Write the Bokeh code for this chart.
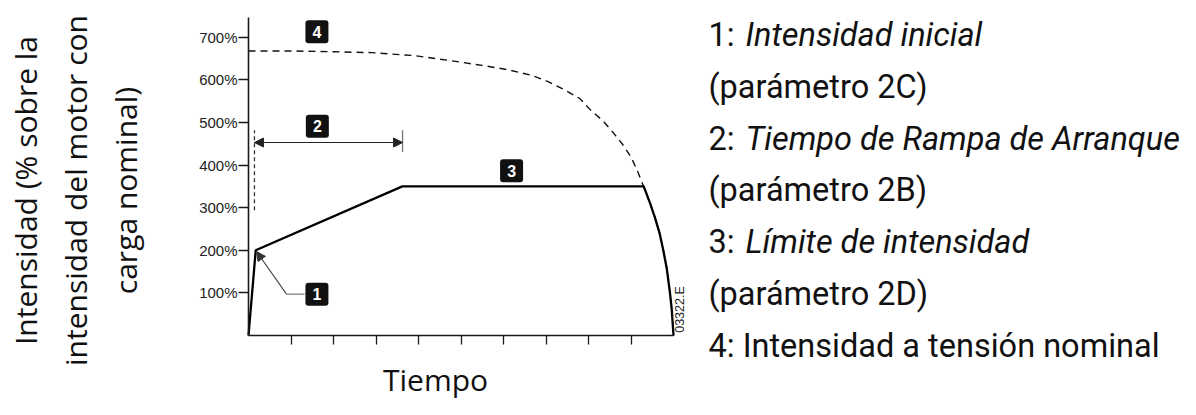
import math
from bokeh.plotting import figure
from bokeh.models import (Label, Arrow, NormalHead, FixedTicker, Range1d, LinearAxis)
from bokeh.core.properties import value
from bokeh.embed import file_html
from bokeh.resources import INLINE

# ---------------- data ----------------
# time axis in arbitrary units (ticks 1..9), current in % of full-load current
time_dashed = [0, 1, 2, 2.9, 3.9, 4.7, 5.5, 6.1, 6.65, 7.05, 7.45, 7.8, 8.05, 8.35,
               8.6, 8.8, 9.0, 9.15, 9.3, 9.45, 9.56, 9.67, 9.76, 9.84, 9.91, 9.96, 10]
current_dashed = [668, 668, 666, 664, 657, 646, 634, 624, 611, 596, 576, 556, 529, 503,
                  474, 449, 419, 387, 349, 310, 278, 241, 200, 158, 106, 60, 0]

time_solid = [0, 0.17, 3.62, 9.3, 9.45, 9.56, 9.67, 9.76, 9.84, 9.91, 9.96, 10]
current_solid = [0, 200, 350, 350, 310, 278, 241, 200, 158, 106, 60, 0]

y_ticks = [100, 200, 300, 400, 500, 600, 700]
y_tick_labels = ["100%", "200%", "300%", "400%", "500%", "600%", "700%"]
x_ticks = [1, 2, 3, 4, 5, 6, 7, 8, 9]
time_axis_end = 10
current_axis_end = 746.5

badge_text = ["1", "2", "3", "4"]
badge_time = [1.61, 1.62, 6.19, 1.61]
badge_current = [97, 491, 387, 713]

ramp_start_time = 0.14
ramp_end_time = 3.625
ramp_arrow_current = 453
ramp_marker_low = [294, 431]
ramp_marker_high = [482, 482]

initial_arrow_elbow = (0.894, 97)
initial_arrow_box = (1.32, 97)
initial_arrow_tip = (0.19, 197)

y_title_lines = ["Intensidad (% sobre la", "intensidad del motor con", "carga nominal)"]
x_title = "Tiempo"
legend_plain = ["1:", "(parámetro 2C)", "2:", "(parámetro 2B)", "3:",
                "(parámetro 2D)", "4: Intensidad a tensión nominal"]
legend_italic = ["Intensidad inicial", "", "Tiempo de Rampa de Arranque", "",
                 "Límite de intensidad", "", ""]
figure_code = "03322.E"

# ---------------- layout (pixel -> data conversion for text placement) ----------------
W, H = 1180, 399
ORIGIN_X, ORIGIN_Y = 248, 335      # pixel position of (0, 0%)
PX_PER_X = 42.5                    # pixels per time unit
PX_PER_Y = 0.426                   # pixels per percent
BASE_SHIFT = 11.5                  # label baseline correction, 32px text
BASE_SHIFT_30 = 12.0               # label baseline correction, 30px text


def dx(xr):
    return (xr - ORIGIN_X) / PX_PER_X


def dy(yr):
    return (ORIGIN_Y - yr) / PX_PER_Y


p = figure(width=W, height=H, output_backend="svg", toolbar_location=None,
           x_range=Range1d(dx(0), dx(W)), y_range=Range1d(dy(H), dy(0)),
           x_axis_type=None, y_axis_type=None,
           min_border_left=0, min_border_right=0, min_border_top=0, min_border_bottom=0)
p.outline_line_color = None
p.background_fill_color = "white"
p.border_fill_color = "white"

AX = "#1a1a1a"
yaxis = LinearAxis(fixed_location=0, bounds=(0, current_axis_end),
                   ticker=FixedTicker(ticks=y_ticks))
yaxis.major_label_overrides = {t: l for t, l in zip(y_ticks, y_tick_labels)}
yaxis.major_tick_out = 10
yaxis.major_tick_in = 0
yaxis.minor_tick_out = 0
yaxis.minor_tick_in = 0
yaxis.major_label_standoff = 1
yaxis.major_label_text_font = "Liberation Sans"
yaxis.major_label_text_font_size = "15px"
yaxis.major_label_text_color = "#222222"

xaxis = LinearAxis(fixed_location=0, bounds=(0, time_axis_end),
                   ticker=FixedTicker(ticks=x_ticks))
xaxis.major_label_text_color = None
xaxis.major_label_text_font_size = "1px"
xaxis.major_tick_out = 9
xaxis.major_tick_in = 0
xaxis.minor_tick_out = 0
xaxis.minor_tick_in = 0

for ax in (xaxis, yaxis):
    ax.axis_line_color = AX
    ax.axis_line_width = 1.6
    ax.major_tick_line_color = AX
    ax.major_tick_line_width = 1.3
p.add_layout(yaxis, "left")
p.add_layout(xaxis, "below")

# curves
p.line(time_dashed, current_dashed, line_color="#111111", line_width=1.4, line_dash="7 5")
p.line(time_solid, current_solid, line_color="#000000", line_width=2.3)

# ramp time marker (2)
p.segment(x0=[ramp_start_time], y0=[ramp_marker_low[0]], x1=[ramp_start_time],
          y1=[ramp_marker_high[0]], line_color="#333333", line_width=1.3, line_dash="4 3")
p.segment(x0=[ramp_end_time], y0=[ramp_marker_low[1]], x1=[ramp_end_time],
          y1=[ramp_marker_high[1]], line_color="#777777", line_width=1.3)
p.add_layout(Arrow(start=NormalHead(size=9, fill_color="#222222", line_color="#222222", line_width=1),
                   end=NormalHead(size=9, fill_color="#222222", line_color="#222222", line_width=1),
                   x_start=ramp_start_time, y_start=ramp_arrow_current,
                   x_end=ramp_end_time, y_end=ramp_arrow_current,
                   line_color="#222222", line_width=1.1))

# initial current pointer (1)
p.segment(x0=[initial_arrow_box[0]], y0=[initial_arrow_box[1]],
          x1=[initial_arrow_elbow[0]], y1=[initial_arrow_elbow[1]],
          line_color="#777777", line_width=1.2)
p.add_layout(Arrow(end=NormalHead(size=9, fill_color="#333333", line_color="#333333", line_width=1),
                   x_start=initial_arrow_elbow[0], y_start=initial_arrow_elbow[1],
                   x_end=initial_arrow_tip[0], y_end=initial_arrow_tip[1],
                   line_color="#444444", line_width=1.1))

# badges
p.rect(x=badge_time, y=badge_current, width=23, height=23, width_units="screen",
       height_units="screen", fill_color="#111111", line_color=None, border_radius=3)
p.text(x=badge_time, y=badge_current, text=badge_text, text_color="white",
       text_font=value("Liberation Sans"), text_font_style="bold", text_font_size="16px",
       text_align="center", text_baseline="middle")

# y title (three rotated lines, baselines at x = 37, 87, 137 px)
for i, line in enumerate(y_title_lines):
    p.add_layout(Label(x=dx(37 + 50 * i - BASE_SHIFT_30), y=dy(190), text=line,
                       angle=math.pi / 2, text_align="center", text_baseline="alphabetic",
                       text_font="Open Sans", text_font_size="30px", text_color="#111111"))

# x title
p.add_layout(Label(x=dx(435), y=dy(391 - BASE_SHIFT_30), text=x_title, text_align="center",
                   text_baseline="alphabetic", text_font="Open Sans",
                   text_font_size="30px", text_color="#111111"))

# figure code
p.add_layout(Label(x=dx(679), y=dy(309), text=figure_code, angle=math.pi / 2,
                   text_align="center", text_baseline="middle",
                   text_font="Liberation Sans", text_font_size="12.5px", text_color="#222222"))

# legend text on the right
baselines = [46, 97.8, 149.6, 201.4, 253.2, 305, 356.7]
for plain, ital, yb in zip(legend_plain, legend_italic, baselines):
    p.add_layout(Label(x=dx(708), y=dy(yb - BASE_SHIFT), text=plain, text_align="left",
                       text_baseline="alphabetic", text_font="Roboto",
                       text_font_size="32.5px", text_color="#111111"))
    if ital:
        p.add_layout(Label(x=dx(745), y=dy(yb - BASE_SHIFT), text=ital, text_align="left",
                           text_baseline="alphabetic", text_font="Roboto",
                           text_font_style="italic",
                           text_font_size="32.5px", text_color="#111111"))

open("out.html", "w").write(file_html(p, INLINE))
